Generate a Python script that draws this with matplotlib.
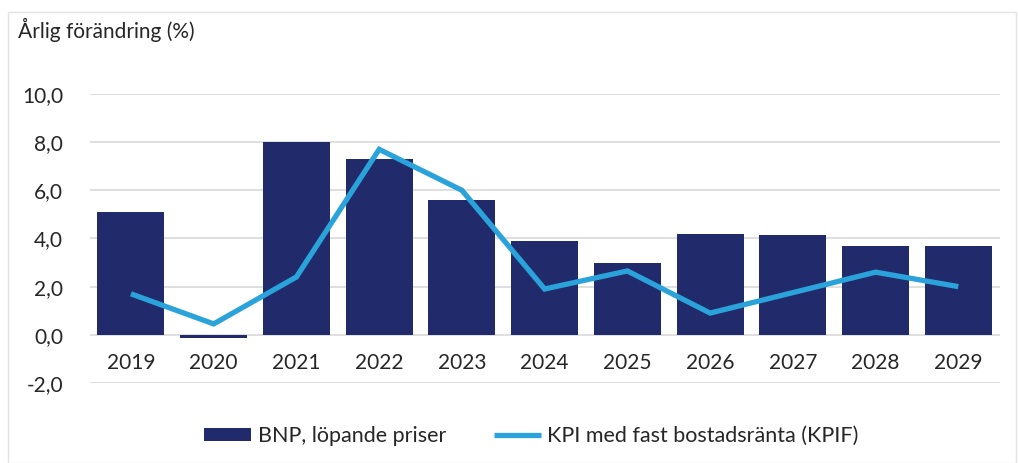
import matplotlib
matplotlib.use("Agg")
import matplotlib.pyplot as plt
from matplotlib.patches import Rectangle
from matplotlib.ticker import FuncFormatter

years = ["2019", "2020", "2021", "2022", "2023", "2024", "2025", "2026", "2027", "2028", "2029"]
bnp = [5.1, -0.15, 8.0, 7.3, 5.6, 3.9, 3.0, 4.2, 4.15, 3.7, 3.7]
kpif = [1.7, 0.45, 2.4, 7.7, 6.0, 1.9, 2.65, 0.9, 1.75, 2.6, 2.0]
yticks = [-2, 0, 2, 4, 6, 8, 10]

plt.rcParams['font.family'] = ['Lato', 'DejaVu Sans']

bar_color = "#212B6C"
line_color = "#2AA3DB"
text_color = "#262626"

fig = plt.figure(figsize=(10.18, 4.63), dpi=100)
ax = fig.add_axes([0.088, 0.173, 0.894, 0.624])

x = list(range(len(years)))
bars = ax.bar(x, bnp, width=0.81, color=bar_color, label="BNP, löpande priser", zorder=2)
line, = ax.plot(x, kpif, color=line_color, lw=3.8, label="KPI med fast bostadsränta (KPIF)",
                zorder=3, solid_joinstyle='miter', solid_capstyle='butt')

ax.set_xlim(-0.5, len(years) - 0.5)
ax.set_ylim(-2, 10)
ax.set_yticks(yticks)
ax.yaxis.set_major_formatter(FuncFormatter(lambda v, p: f"{v:.1f}".replace(".", ",")))
ax.grid(axis='y', color="#D9D9D9", lw=1.2, zorder=0)
ax.set_axisbelow(True)

ax.set_xticks(x)
ax.set_xticklabels(years)
ax.spines['bottom'].set_position(('data', 0))
for s in ['top', 'right', 'left', 'bottom']:
    ax.spines[s].set_visible(False)
ax.tick_params(axis='both', length=0, labelsize=15, colors=text_color)
ax.tick_params(axis='x', pad=13)
ax.tick_params(axis='y', pad=19)

fig.text(0.018, 0.935, "Årlig förändring (%)", fontsize=15, color=text_color,
         ha='left', va='center')

leg = fig.legend(handles=[bars, line], loc='center', bbox_to_anchor=(0.522, 0.058), ncol=2,
                 frameon=False, fontsize=15.5, handlelength=2.2, handleheight=0.55,
                 columnspacing=2.2, handletextpad=0.3)
for t in leg.get_texts():
    t.set_color(text_color)

fig.patches.append(Rectangle((0.008, 0.0), 0.99, 0.975, transform=fig.transFigure,
                             fill=False, edgecolor="#E3E3E3", lw=1.0))

fig.savefig("out.png", dpi=100)
